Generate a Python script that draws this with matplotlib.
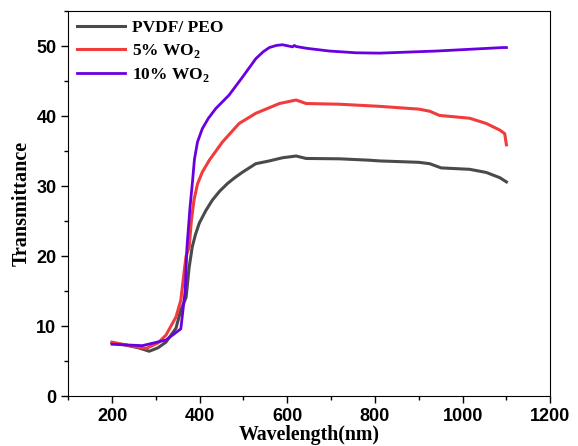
import numpy as np
import matplotlib.pyplot as plt

# transmittance spectra read at selected wavelengths (nm)
wl_pure = [200, 230, 260, 285, 305, 323, 346, 357, 369, 376, 383, 390, 399, 414, 429,
           446, 464, 480, 498, 528, 559, 589, 620, 643, 719, 787, 810, 900, 925, 951,
           1016, 1054, 1085, 1100]
t_pure = [7.6, 7.3, 6.9, 6.4, 6.9, 7.7, 9.7, 12.3, 14.1, 18.4, 21.3, 23.0, 24.7, 26.5,
          28.0, 29.3, 30.4, 31.2, 32.0, 33.2, 33.6, 34.05, 34.3, 33.95, 33.9, 33.7, 33.6,
          33.4, 33.2, 32.6, 32.4, 31.95, 31.2, 30.6]

wl_5 = [200, 240, 278, 305, 323, 346, 357, 365, 369, 376, 381, 387, 395, 406, 422, 452,
        490, 528, 555, 582, 620, 643, 719, 810, 900, 925, 947, 1016, 1054, 1085, 1096,
        1100]
t_5 = [7.7, 7.2, 6.8, 7.6, 8.7, 11.3, 13.7, 18.0, 20.0, 21.3, 25.0, 28.0, 30.3, 32.0,
       33.7, 36.3, 38.95, 40.4, 41.1, 41.8, 42.3, 41.8, 41.7, 41.4, 41.0, 40.7, 40.1,
       39.7, 38.95, 38.0, 37.5, 35.9]

wl_10 = [200, 269, 323, 357, 367, 371, 378, 383.6, 388, 395, 406, 420, 437, 467, 498,
         528, 545, 559, 575, 589, 612, 616, 620, 643, 696, 757, 810, 940, 1092, 1100]
t_10 = [7.4, 7.2, 8.0, 9.6, 15.1, 21.3, 27.0, 30.6, 33.8, 36.3, 38.2, 39.7, 41.1, 43.0,
        45.6, 48.2, 49.2, 49.8, 50.1, 50.2, 49.9, 50.1, 49.95, 49.7, 49.3, 49.05, 49.0,
        49.3, 49.8, 49.8]

labels = ['PVDF/ PEO', '5% WO$_\\mathbf{2}$', '10% WO$_\\mathbf{2}$']
colors = ['#4a4a4a', '#f03c3c', '#6a00e0']

plt.rcParams['mathtext.fontset'] = 'custom'
plt.rcParams['mathtext.rm'] = 'Liberation Serif:bold'
plt.rcParams['mathtext.bf'] = 'Liberation Serif:bold'

fig = plt.figure(figsize=(5.78, 4.46), dpi=100)
ax = fig.add_axes([0.118, 0.112, 0.834, 0.863])

ax.plot(wl_pure, t_pure, color=colors[0], lw=2.2, label=labels[0])
ax.plot(wl_5, t_5, color=colors[1], lw=2.2, label=labels[1])
ax.plot(wl_10, t_10, color=colors[2], lw=2.0, label=labels[2])

ax.set_xlim(100, 1200)
ax.set_ylim(0, 55)
ax.set_xticks([200, 400, 600, 800, 1000, 1200])
ax.set_xticks(np.arange(100, 1201, 100), minor=True)
ax.set_yticks([0, 10, 20, 30, 40, 50])
ax.set_yticks(np.arange(0, 56, 5), minor=True)
ax.tick_params(which='major', direction='out', length=5, width=1, labelsize=13)
ax.tick_params(which='minor', direction='out', length=3, width=1)
for lab in ax.get_xticklabels() + ax.get_yticklabels():
    lab.set_fontweight('bold')
    lab.set_family('Liberation Sans')

ax.set_xlabel('Wavelength(nm)', fontsize=14.3, fontweight='bold', family='Liberation Serif',
              labelpad=0)
ax.set_ylabel('Transmittance', fontsize=14.5, fontweight='bold', family='Liberation Serif',
              labelpad=3)

ax.legend(loc='upper left', frameon=False, handlelength=2.8, handletextpad=0.4,
          borderaxespad=0.1, labelspacing=0.35,
          prop={'family': 'Liberation Serif', 'weight': 'bold', 'size': 12.5})

fig.savefig('out.png', dpi=100)
